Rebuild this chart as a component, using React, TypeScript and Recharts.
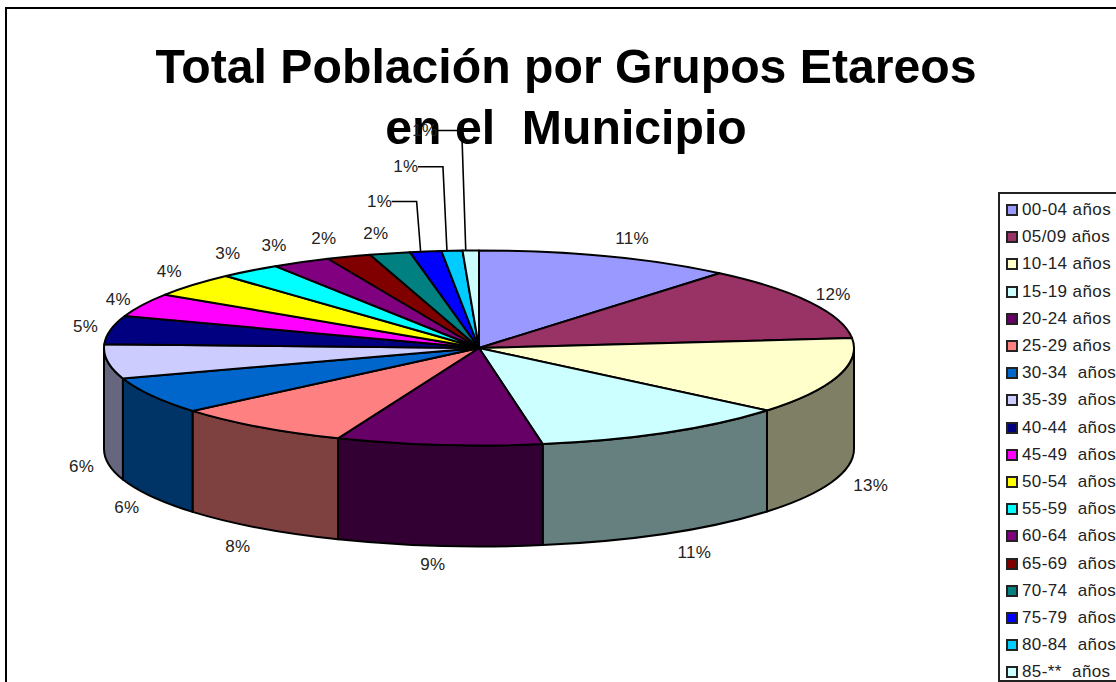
import { PieChart, Pie, Legend } from "recharts";

const groups = [
  "00-04 años", "05/09 años", "10-14 años", "15-19 años", "20-24 años", "25-29 años",
  "30-34  años", "35-39  años", "40-44  años", "45-49  años", "50-54  años", "55-59  años",
  "60-64  años", "65-69  años", "70-74  años", "75-79  años", "80-84  años", "85-**  años",
];
const shares = [11.1, 12.3, 12.7, 11.23, 8.86, 7.71, 6.1, 5.7, 4.7, 3.9, 4.0, 2.65, 2.55, 1.9, 1.75, 1.35, 0.9, 0.7];
const colors = [
  "#9999FF", "#993366", "#FFFFCC", "#CCFFFF", "#660066", "#FF8080", "#0066CC", "#CCCCFF", "#000080",
  "#FF00FF", "#FFFF00", "#00FFFF", "#800080", "#800000", "#008080", "#0000FF", "#00CCFF", "#CCFFFF",
];
const titleLines = ["Total Población por Grupos Etareos", "en el  Municipio"];

const data = groups.map((name, i) => ({ name, value: shares[i], fill: colors[i] }));

// the pie is flattened by hand: recharts gives the angles, we squash them onto an ellipse
const FLATTEN = 0.26;
const DEPTH = 101;
const RAD = Math.PI / 180;

// label position relative to the slice's rim point at its mid angle
const labelNudge = [
  [25, -18], [23, -8], [33, 8], [28, 19], [-6, 19], [-21, 19], [-25, 11], [-26, 4], [-25, -3],
  [-24, -6], [-24, -13], [-22, -17], [-27, -17], [-25, -18], [-14, -20], [-46, -50], [-46, -84], [-46, -120],
];
const hasLeader = (i: number) => i >= 15;

const rim = (cx: number, cy: number, r: number, a: number) => ({
  x: cx + r * Math.cos(a * RAD),
  y: cy - r * FLATTEN * Math.sin(a * RAD),
});

function darker(hex: string) {
  const n = parseInt(hex.slice(1), 16);
  const half = (v: number) => (v >> 1).toString(16).padStart(2, "0");
  return `#${half((n >> 16) & 255)}${half((n >> 8) & 255)}${half(n & 255)}`;
}

function Slice3D(props: any) {
  const { cx, cy, outerRadius: r, startAngle, endAngle, fill } = props;
  const ry = r * FLATTEN;
  const p1 = rim(cx, cy, r, startAngle);
  const p2 = rim(cx, cy, r, endAngle);
  const large = Math.abs(startAngle - endAngle) > 180 ? 1 : 0;
  const wallFrom = Math.min(startAngle, 0);
  const wallTo = Math.max(endAngle, -180);
  let wall = null;
  if (wallFrom > wallTo) {
    const w1 = rim(cx, cy, r, wallFrom);
    const w2 = rim(cx, cy, r, wallTo);
    wall = (
      <path
        d={`M${w1.x},${w1.y} A${r},${ry} 0 0 1 ${w2.x},${w2.y} L${w2.x},${w2.y + DEPTH} A${r},${ry} 0 0 0 ${w1.x},${w1.y + DEPTH} Z`}
        fill={darker(fill)}
        stroke="#000"
        strokeWidth={2}
        strokeLinejoin="round"
      />
    );
  }
  return (
    <g>
      {wall}
      <path
        d={`M${cx},${cy} L${p1.x},${p1.y} A${r},${ry} 0 ${large} 1 ${p2.x},${p2.y} Z`}
        fill={fill}
        stroke="#000"
        strokeWidth={2}
        strokeLinejoin="round"
      />
    </g>
  );
}

function renderLabel(props: any) {
  const { cx, cy, outerRadius: r, midAngle, percent, index } = props;
  const p = rim(cx, cy, r, midAngle);
  const front = Math.sin(midAngle * RAD) < 0;
  const [dx, dy] = labelNudge[index];
  const x = p.x + dx;
  const y = p.y + (front ? DEPTH : 0) + dy;
  return (
    <g>
      {hasLeader(index) && (
        <polyline
          points={`${p.x - 5},${p.y} ${p.x - 9},${y} ${x + 12},${y}`}
          fill="none"
          stroke="#000"
          strokeWidth={1.6}
        />
      )}
      <text x={x} y={y} textAnchor="middle" dominantBaseline="central" fontSize={17} letterSpacing={0.3} fill="#222"
        fontFamily="'Liberation Sans', Arial, sans-serif">
        {`${Math.round(percent * 100)}%`}
      </text>
    </g>
  );
}

function LegendBox({ payload }: any) {
  return (
    <div style={{ position: "absolute", left: 0, top: 0, width: 118, height: 490, borderTop: "2px solid #222", borderLeft: "2px solid #222", borderBottom: "2px solid #222", background: "#fff", boxSizing: "border-box" }}>
      {(payload || []).map((item: any, i: number) => (
        <div key={i} style={{ position: "absolute", left: 6, top: 7 + i * 27.2, display: "flex", alignItems: "center", height: 18, whiteSpace: "pre" }}>
          <span style={{ display: "inline-block", width: 8, height: 8, border: "2px solid #222", background: item.color, marginRight: 4 }} />
          <span style={{ fontFamily: "'Liberation Sans', Arial, sans-serif", fontSize: 17, letterSpacing: 0.4, color: "#222" }}>{item.value}</span>
        </div>
      ))}
    </div>
  );
}

export default function App() {
  return (
    <div style={{ position: "absolute", left: 0, top: 0, width: 1116, height: 682, overflow: "hidden", background: "#fff" }}>
      <div style={{ position: "absolute", left: 5, top: 7, width: 1111, height: 675, borderTop: "2px solid #000", borderLeft: "2px solid #000", boxSizing: "border-box" }} />
      <div style={{ position: "absolute", left: 0, top: 36, width: 1132, textAlign: "center", fontFamily: "'Liberation Sans', Arial, sans-serif", fontWeight: 700, fontSize: 48.2, lineHeight: "61px", whiteSpace: "pre", color: "#000" }}>
        {titleLines.map((t) => <div key={t}>{t}</div>)}
      </div>
      <div style={{ position: "absolute", left: 0, top: 0 }}>
        <PieChart width={1116} height={682} margin={{ top: 0, right: 0, bottom: 0, left: 0 }}>
          <Pie
            data={data}
            dataKey="value"
            nameKey="name"
            cx={479}
            cy={348}
            outerRadius={375}
            startAngle={90}
            endAngle={-270}
            shape={Slice3D}
            label={renderLabel}
            labelLine={false}
            isAnimationActive={false}
          />
          <Legend
            layout="vertical"
            align="right"
            verticalAlign="top"
            content={LegendBox}
            wrapperStyle={{ position: "absolute", left: 998, top: 192, width: 118, height: 490 }}
          />
        </PieChart>
      </div>
    </div>
  );
}
